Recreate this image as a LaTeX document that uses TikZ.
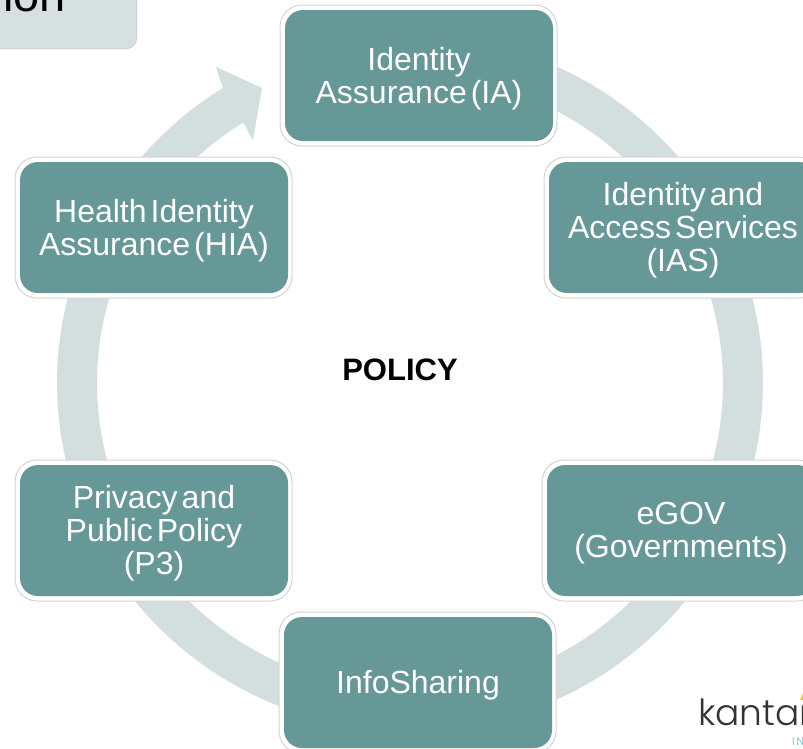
\documentclass[tikz,border=0pt]{standalone}
\usepackage{fontspec}
\setmainfont[WordSpace=0.45]{Liberation Sans}
\newfontfamily\logofont[UprightFont=* Light]{Poppins}
\definecolor{boxteal}{HTML}{669898}
\definecolor{ringgrey}{HTML}{D3DEDE}
\definecolor{titlegrey}{HTML}{D6E0E0}
\definecolor{titleedge}{HTML}{C8D3D3}
\definecolor{boxedge}{HTML}{D4D4D4}
\definecolor{logodark}{HTML}{333333}
\definecolor{logoteal}{HTML}{6FB5BD}
\definecolor{logoyellow}{HTML}{D9D23A}
\tikzset{
  stagebox/.style={rounded corners=18pt,fill=boxteal,
    minimum width=268pt,minimum height=131pt,inner sep=0pt,outer sep=0pt,anchor=north west},
  stageedge/.style={rounded corners=22pt,draw=boxedge,fill=white,line width=1pt,
    minimum width=277pt,minimum height=141pt,inner sep=0pt,outer sep=0pt,anchor=north west},
  stagetext/.style={text=white,align=center,font=\fontsize{32}{33}\selectfont}
}
\newcommand{\stage}[4]{% name, x, y, text
  \node[stageedge] (#1edge) at (#2-5,#3-5) {};
  \node[stagebox] (#1) at (#2,#3) {};
  \node[stagetext,yshift=-3pt] (#1text) at (#1.center) {#4};
}
\begin{document}
\begin{tikzpicture}[x=1pt,y=-1pt]
\useasboundingbox (0,0) rectangle (803,748);
\clip (0,0) rectangle (803,748);
\fill[white] (0,0) rectangle (803,748);
% title fragment
\node[draw=titleedge,line width=0.8pt,fill=titlegrey,rounded corners=10pt,anchor=south east,
  minimum width=200pt,minimum height=100pt,inner sep=0pt] (title) at (137,49) {};
\node[anchor=base east,inner sep=0pt,font=\fontsize{47}{47}\selectfont] (titletext) at (66,11) {ion};
% ring arrow
\fill[ringgrey]
  plot[domain=95:-238,samples=160] ({410+353*cos(\x)},{383-348*sin(\x)})
  -- (216,67) -- (262,88) -- (253,140) -- (243,122)
  -- plot[domain=-238:95,samples=160] ({410+313*cos(\x)},{383-308*sin(\x)})
  -- cycle;
\stage{ia}{285}{10}{Identity\\Assurance (IA)}
\stage{ias}{549}{162}{Identity and\\Access Services\\(IAS)}
\stage{egov}{547}{465}{eGOV\\(Governments)}
\stage{info}{284}{617}{InfoSharing}
\stage{ppp}{20}{465}{Privacy and\\Public Policy\\(P3)}
\stage{hia}{20}{162}{Health Identity\\Assurance (HIA)}
\node[font=\bfseries\fontsize{31}{33}\selectfont] (policy) at (400,370) {POLICY};
% logo
\node[anchor=base west,inner sep=0pt,text=logodark,font=\logofont\fontsize{36}{36}\selectfont] (logo) at (698,725) {kantara};
\node[anchor=base west,inner sep=0pt,text=logoteal,font=\logofont\fontsize{11}{11}\selectfont] (logoin) at (792,745) {I\,N};
\fill[logoyellow] (800,700) -- (803,693) -- (803,700) -- cycle;
\end{tikzpicture}
\end{document}
